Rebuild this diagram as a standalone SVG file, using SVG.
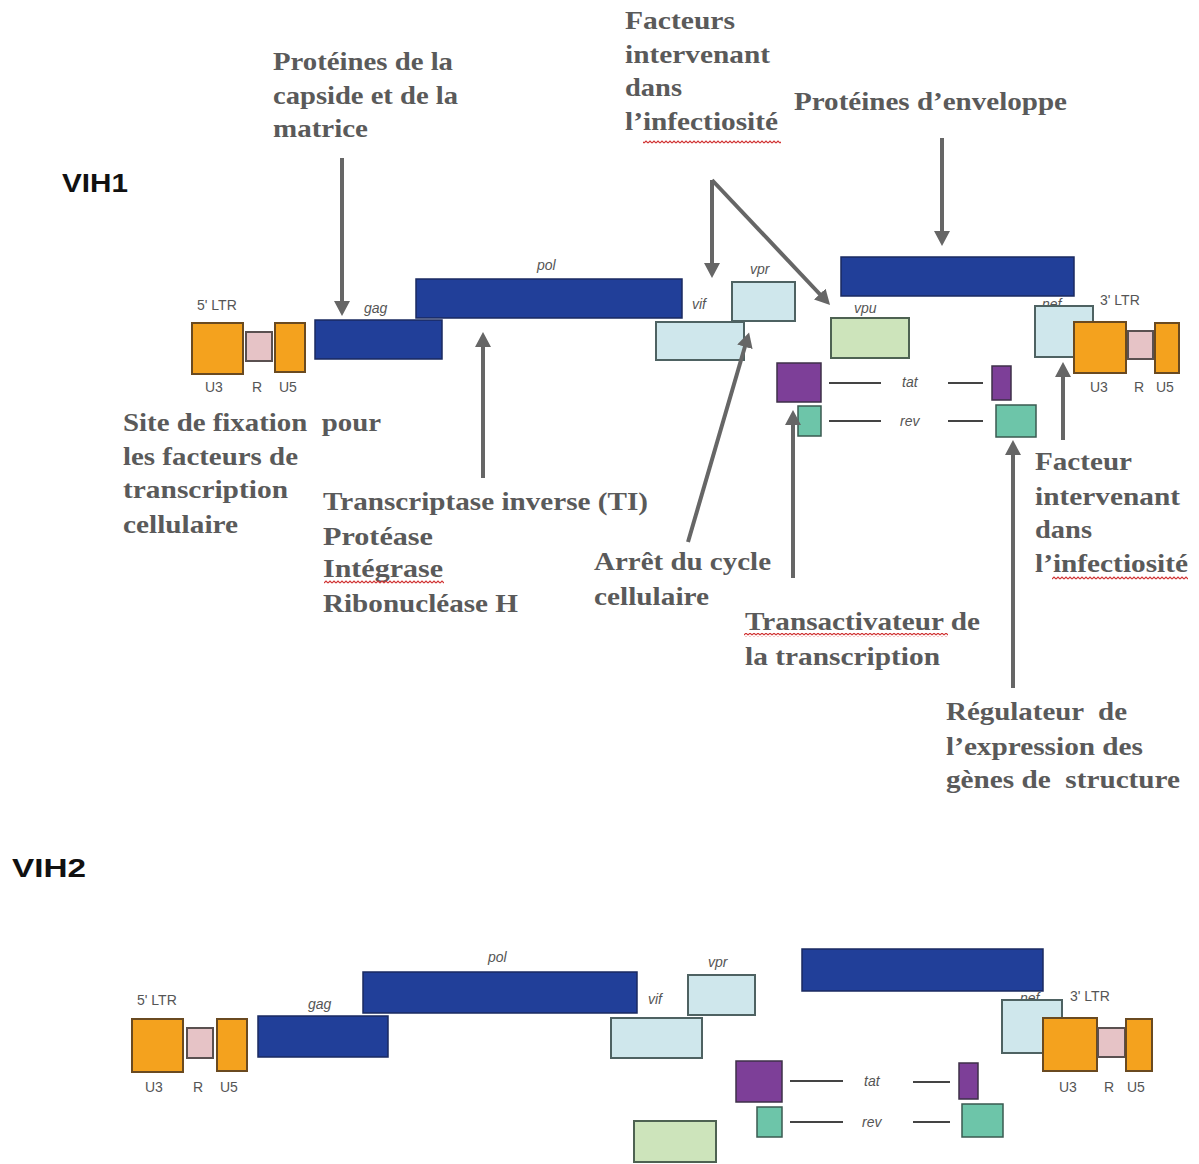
<svg xmlns="http://www.w3.org/2000/svg" width="1199" height="1164" viewBox="0 0 1199 1164">
<style>
.bg{fill:#ffffff}
.title{font-family:"Liberation Sans",Arial,sans-serif;font-weight:bold;font-size:26px;fill:#111}
.note{font-family:"Liberation Serif","Times New Roman",serif;font-weight:bold;font-size:26px;fill:#5a5a5a;white-space:pre}
.lbl{font-family:"Liberation Sans",Arial,sans-serif;font-size:14px;fill:#555}
.gene{font-family:"Liberation Sans",Arial,sans-serif;font-size:14px;font-style:italic;fill:#555}
.ltr{fill:#f4a21e;stroke:#6a4a20;stroke-width:2}
.r{fill:#e6c3c6;stroke:#5a5050;stroke-width:2}
.dk{fill:#213f99;stroke:#1a2a60;stroke-width:1.5}
.lb{fill:#cfe7ec;stroke:#4e6262;stroke-width:2}
.gr{fill:#cde4bb;stroke:#4e6252;stroke-width:2}
.pu{fill:#7d3f98;stroke:#3e3048;stroke-width:1.5}
.te{fill:#6dc5a9;stroke:#3a5a50;stroke-width:1.5}
.ln{stroke:#444;stroke-width:2}
.arr{stroke:#666;stroke-width:4;fill:none;marker-end:url(#ah)}
.wavy{fill:url(#wv)}
</style>
<defs>
<marker id="ah" markerUnits="userSpaceOnUse" markerWidth="16" markerHeight="16" viewBox="0 0 16 16" refX="4" refY="8" orient="auto">
<path d="M0,0 L15,8 L0,16 z" fill="#666"/>
</marker>
<pattern id="wv" patternUnits="userSpaceOnUse" x="0" y="0" width="4" height="4">
<path d="M0,3 L2,1 L4,3" fill="none" stroke="#d03030" stroke-width="1.1"/>
</pattern>
</defs>
<rect class="bg" x="0" y="0" width="1199" height="1164"/>

<text class="title" x="62" y="192" textLength="66" lengthAdjust="spacingAndGlyphs">VIH1</text>
<text class="title" x="12" y="877" textLength="74" lengthAdjust="spacingAndGlyphs">VIH2</text>

<!-- VIH1 genome -->
<g id="vih1-ltr5">
<text class="lbl" x="197" y="310">5' LTR</text>
<rect class="ltr" x="192" y="323" width="51" height="51"/>
<rect class="r" x="246" y="332" width="26" height="29"/>
<rect class="ltr" x="275" y="323" width="30" height="49"/>
<text class="lbl" x="205" y="392">U3</text>
<text class="lbl" x="252" y="392">R</text>
<text class="lbl" x="279" y="392">U5</text>
</g>
<g id="vih1-gag">
<text class="gene" x="364" y="313">gag</text>
<rect class="dk" x="315" y="320" width="127" height="39"/>
</g>
<g id="vih1-pol">
<text class="gene" x="537" y="270">pol</text>
<rect class="dk" x="416" y="279" width="266" height="39"/>
</g>
<g id="vih1-vif">
<text class="gene" x="692" y="309">vif</text>
<rect class="lb" x="656" y="322" width="88" height="38"/>
</g>
<g id="vih1-vpr">
<text class="gene" x="750" y="274">vpr</text>
<rect class="lb" x="732" y="282" width="63" height="39"/>
</g>
<g id="vih1-env">
<text class="gene" x="1042" y="309">nef</text>
<rect class="dk" x="841" y="257" width="233" height="39"/>
</g>
<g id="vih1-vpu">
<text class="gene" x="854" y="313">vpu</text>
<rect class="gr" x="831" y="318" width="78" height="40"/>
</g>
<g id="vih1-nef">
<rect class="lb" x="1035" y="306" width="58" height="51"/>
</g>
<g id="vih1-ltr3">
<text class="lbl" x="1100" y="305">3' LTR</text>
<rect class="ltr" x="1074" y="322" width="52" height="51"/>
<rect class="r" x="1128" y="331" width="25" height="28"/>
<rect class="ltr" x="1155" y="323" width="24" height="50"/>
<text class="lbl" x="1090" y="392">U3</text>
<text class="lbl" x="1134" y="392">R</text>
<text class="lbl" x="1156" y="392">U5</text>
</g>
<g id="vih1-tat">
<rect class="pu" x="777" y="363" width="44" height="39"/>
<line class="ln" x1="829" y1="383" x2="881" y2="383"/>
<text class="gene" x="902" y="387">tat</text>
<line class="ln" x1="948" y1="383" x2="983" y2="383"/>
<rect class="pu" x="992" y="366" width="19" height="34"/>
</g>
<g id="vih1-rev">
<rect class="te" x="798" y="406" width="23" height="30"/>
<line class="ln" x1="829" y1="421" x2="881" y2="421"/>
<text class="gene" x="900" y="426">rev</text>
<line class="ln" x1="948" y1="421" x2="983" y2="421"/>
<rect class="te" x="996" y="405" width="40" height="32"/>
</g>

<!-- annotation texts -->
<g id="t-capside">
<text class="note" x="273" y="70" textLength="180" lengthAdjust="spacingAndGlyphs">Protéines de la</text>
<text class="note" x="273" y="104" textLength="185" lengthAdjust="spacingAndGlyphs">capside et de la</text>
<text class="note" x="273" y="137" textLength="95" lengthAdjust="spacingAndGlyphs">matrice</text>
</g>
<g id="t-facteurs">
<text class="note" x="625" y="29" textLength="110" lengthAdjust="spacingAndGlyphs">Facteurs</text>
<text class="note" x="625" y="63" textLength="145" lengthAdjust="spacingAndGlyphs">intervenant</text>
<text class="note" x="625" y="96" textLength="57" lengthAdjust="spacingAndGlyphs">dans</text>
<text class="note" x="625" y="130" textLength="153" lengthAdjust="spacingAndGlyphs">l’infectiosité</text>
<rect class="wavy" x="643" y="140" width="138" height="4"/>
</g>
<g id="t-enveloppe">
<text class="note" x="794" y="110" textLength="273" lengthAdjust="spacingAndGlyphs">Protéines d’enveloppe</text>
</g>
<g id="t-site">
<text class="note" x="123" y="431" textLength="258" lengthAdjust="spacingAndGlyphs">Site de fixation  pour</text>
<text class="note" x="123" y="465" textLength="175" lengthAdjust="spacingAndGlyphs">les facteurs de</text>
<text class="note" x="123" y="498" textLength="165" lengthAdjust="spacingAndGlyphs">transcription</text>
<text class="note" x="123" y="533" textLength="115" lengthAdjust="spacingAndGlyphs">cellulaire</text>
</g>
<g id="t-enzymes">
<text class="note" x="323" y="510" textLength="325" lengthAdjust="spacingAndGlyphs">Transcriptase inverse (TI)</text>
<text class="note" x="323" y="545" textLength="110" lengthAdjust="spacingAndGlyphs">Protéase</text>
<text class="note" x="323" y="577" textLength="120" lengthAdjust="spacingAndGlyphs">Intégrase</text>
<text class="note" x="323" y="612" textLength="195" lengthAdjust="spacingAndGlyphs">Ribonucléase H</text>
<rect class="wavy" x="324" y="580" width="120" height="4"/>
</g>
<g id="t-arret">
<text class="note" x="594" y="570" textLength="177" lengthAdjust="spacingAndGlyphs">Arrêt du cycle</text>
<text class="note" x="594" y="605" textLength="115" lengthAdjust="spacingAndGlyphs">cellulaire</text>
</g>
<g id="t-transact">
<text class="note" x="745" y="630" textLength="235" lengthAdjust="spacingAndGlyphs">Transactivateur de</text>
<text class="note" x="745" y="665" textLength="195" lengthAdjust="spacingAndGlyphs">la transcription</text>
<rect class="wavy" x="744" y="633" width="204" height="4"/>
</g>
<g id="t-facteur-nef">
<text class="note" x="1035" y="470" textLength="97" lengthAdjust="spacingAndGlyphs">Facteur</text>
<text class="note" x="1035" y="505" textLength="145" lengthAdjust="spacingAndGlyphs">intervenant</text>
<text class="note" x="1035" y="538" textLength="57" lengthAdjust="spacingAndGlyphs">dans</text>
<text class="note" x="1035" y="572" textLength="153" lengthAdjust="spacingAndGlyphs">l’infectiosité</text>
<rect class="wavy" x="1052" y="576" width="136" height="4"/>
</g>
<g id="t-regulateur">
<text class="note" x="946" y="720" textLength="181" lengthAdjust="spacingAndGlyphs">Régulateur  de</text>
<text class="note" x="946" y="755" textLength="197" lengthAdjust="spacingAndGlyphs">l’expression des</text>
<text class="note" x="946" y="788" textLength="234" lengthAdjust="spacingAndGlyphs">gènes de  structure</text>
</g>

<!-- connectors -->
<g id="connectors">
<line class="arr" x1="342" y1="158" x2="342" y2="305"/>
<line class="arr" x1="483" y1="478" x2="483" y2="343"/>
<line class="arr" x1="712" y1="180" x2="712" y2="267"/>
<line class="arr" x1="712" y1="180" x2="822.5" y2="297"/>
<line class="arr" x1="942" y1="138" x2="942" y2="235"/>
<line class="arr" x1="688" y1="542" x2="746" y2="343"/>
<line class="arr" x1="793" y1="578" x2="793" y2="421"/>
<line class="arr" x1="1013" y1="688" x2="1013" y2="451"/>
<line class="arr" x1="1063" y1="440" x2="1063" y2="373"/>
</g>

<!-- VIH2 genome -->
<g id="vih2-ltr5">
<text class="lbl" x="137" y="1005">5' LTR</text>
<rect class="ltr" x="132" y="1019" width="51" height="53"/>
<rect class="r" x="187" y="1028" width="26" height="30"/>
<rect class="ltr" x="217" y="1019" width="30" height="52"/>
<text class="lbl" x="145" y="1092">U3</text>
<text class="lbl" x="193" y="1092">R</text>
<text class="lbl" x="220" y="1092">U5</text>
</g>
<g id="vih2-gag">
<text class="gene" x="308" y="1009">gag</text>
<rect class="dk" x="258" y="1016" width="130" height="41"/>
</g>
<g id="vih2-pol">
<text class="gene" x="488" y="962">pol</text>
<rect class="dk" x="363" y="972" width="274" height="41"/>
</g>
<g id="vih2-vif">
<text class="gene" x="648" y="1004">vif</text>
<rect class="lb" x="611" y="1018" width="91" height="40"/>
</g>
<g id="vih2-vpr">
<text class="gene" x="708" y="967">vpr</text>
<rect class="lb" x="688" y="975" width="67" height="40"/>
</g>
<g id="vih2-env">
<text class="gene" x="1020" y="1003">nef</text>
<rect class="dk" x="802" y="949" width="241" height="42"/>
</g>
<g id="vih2-nef">
<rect class="lb" x="1002" y="1000" width="60" height="53"/>
</g>
<g id="vih2-ltr3">
<text class="lbl" x="1070" y="1001">3' LTR</text>
<rect class="ltr" x="1043" y="1018" width="54" height="53"/>
<rect class="r" x="1098" y="1028" width="27" height="29"/>
<rect class="ltr" x="1126" y="1019" width="26" height="52"/>
<text class="lbl" x="1059" y="1092">U3</text>
<text class="lbl" x="1104" y="1092">R</text>
<text class="lbl" x="1127" y="1092">U5</text>
</g>
<g id="vih2-tat">
<rect class="pu" x="736" y="1061" width="46" height="41"/>
<line class="ln" x1="790" y1="1081" x2="843" y2="1081"/>
<text class="gene" x="864" y="1086">tat</text>
<line class="ln" x1="913" y1="1082" x2="950" y2="1082"/>
<rect class="pu" x="959" y="1063" width="19" height="36"/>
</g>
<g id="vih2-rev">
<rect class="te" x="757" y="1107" width="25" height="30"/>
<line class="ln" x1="790" y1="1122" x2="843" y2="1122"/>
<text class="gene" x="862" y="1127">rev</text>
<line class="ln" x1="913" y1="1122" x2="950" y2="1122"/>
<rect class="te" x="962" y="1104" width="41" height="33"/>
</g>
<g id="vih2-vpx">
<rect class="gr" x="634" y="1121" width="82" height="41"/>
</g>
</svg>
